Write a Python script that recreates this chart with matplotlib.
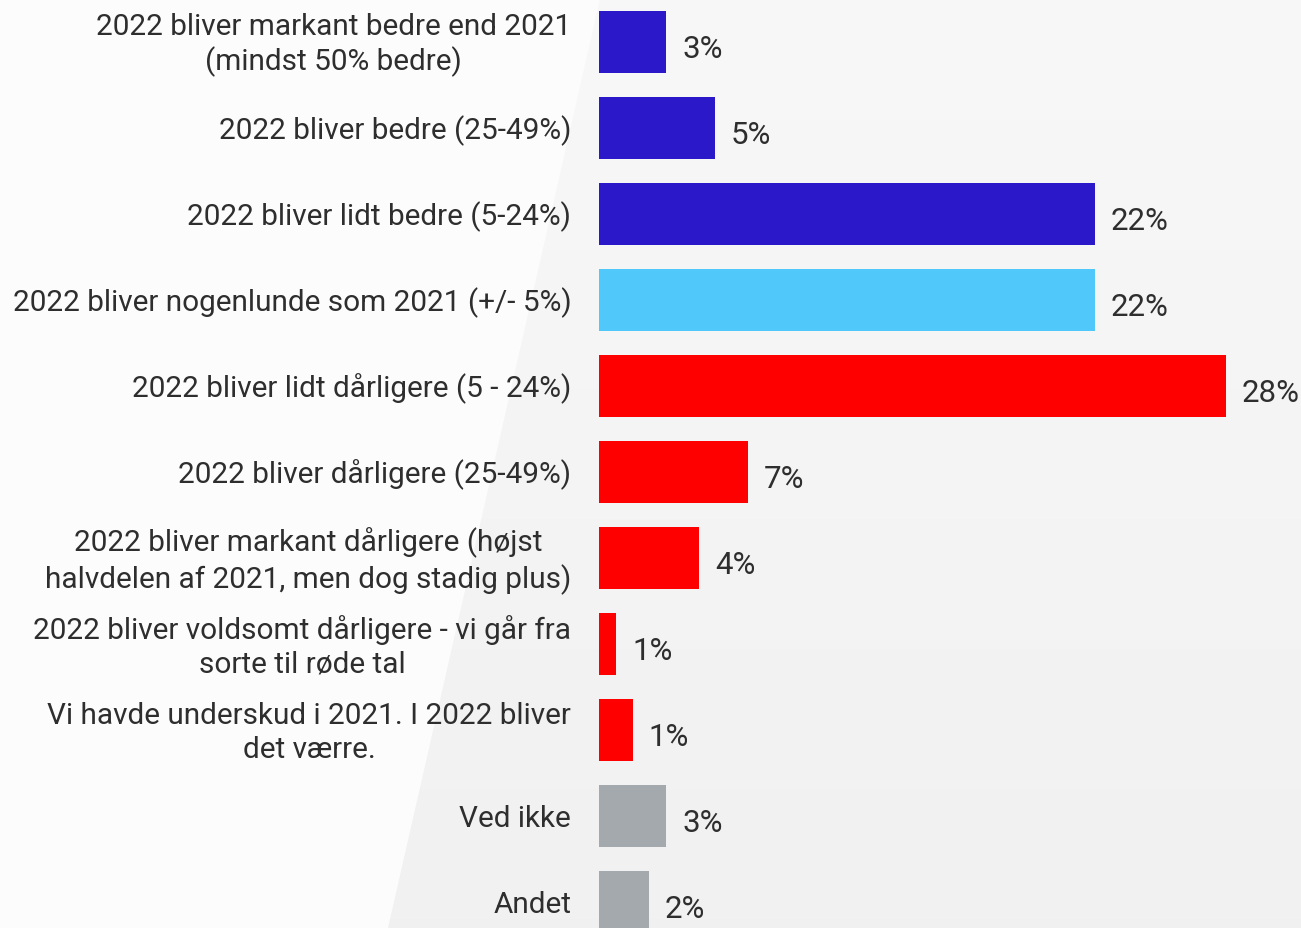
import numpy as np
import matplotlib.pyplot as plt
from matplotlib.patches import Polygon

# Survey answers: how will 2022 turn out compared with 2021
answers = [
    "2022 bliver markant bedre end 2021\n(mindst 50% bedre)",
    "2022 bliver bedre (25-49%)",
    "2022 bliver lidt bedre (5-24%)",
    "2022 bliver nogenlunde som 2021 (+/- 5%)",
    "2022 bliver lidt dårligere (5 - 24%)",
    "2022 bliver dårligere (25-49%)",
    "2022 bliver markant dårligere (højst\nhalvdelen af 2021, men dog stadig plus)",
    "2022 bliver voldsomt dårligere - vi går fra\nsorte til røde tal",
    "Vi havde underskud i 2021. I 2022 bliver\ndet værre.",
    "Ved ikke",
    "Andet",
]
shares = [2.95, 5.10, 21.8, 21.8, 27.56, 6.55, 4.40, 0.75, 1.49, 2.95, 2.20]
groups = ["up", "up", "up", "same", "down", "down", "down", "down", "down", "other", "other"]

colours = {"up": "#2b19c9", "same": "#50c9fa", "down": "#ff0000", "other": "#a3a9ac"}
text_col = "#2e2e2e"

plt.rcParams["font.family"] = ["Roboto", "DejaVu Sans"]

W, H = 1301, 929
fig = plt.figure(figsize=(W / 100, H / 100), dpi=100)
fig.patch.set_facecolor("#fcfcfc")

# light grey backdrop with a slanted left edge
bg = fig.add_axes([0, 0, 1, 1])
bg.set_xlim(0, W)
bg.set_ylim(H, 0)
bg.axis("off")
shade = Polygon([[600, 0], [W, 0], [W, H], [388, H]], closed=True,
                facecolor="none", edgecolor="none")
bg.add_patch(shade)
grad = np.linspace(0.972, 0.945, 100).reshape(-1, 1)
img = bg.imshow(np.dstack([grad, grad, grad]), extent=[0, W, H, 0], aspect="auto")
img.set_clip_path(shade)

# bar axes: start at x=599 px, 22.75 px per percent
left = 599 / W
ax = fig.add_axes([left, 0, 1 - left, 1])
ax.patch.set_alpha(0)
ypos = np.arange(len(answers))
ax.barh(ypos, shares, height=0.72, color=[colours[g] for g in groups])
ax.set_xlim(0, (W - 599) / 22.75)
ax.set_ylim((H - 43) / 86, -0.5)
ax.axis("off")

for y, v, lab in zip(ypos, shares, answers):
    ax.text(v + 0.7, y + 0.07, f"{v:.0f}%", va="center", ha="left",
            fontsize=22.5, color=text_col)
    ax.annotate(lab, xy=(0, y), xytext=(-20, -1.5), textcoords="offset points",
                xycoords="data", ha="right", va="center", multialignment="center",
                fontsize=21.4, color=text_col, linespacing=1.24,
                annotation_clip=False)

fig.savefig("out.png", dpi=100, facecolor=fig.get_facecolor())
